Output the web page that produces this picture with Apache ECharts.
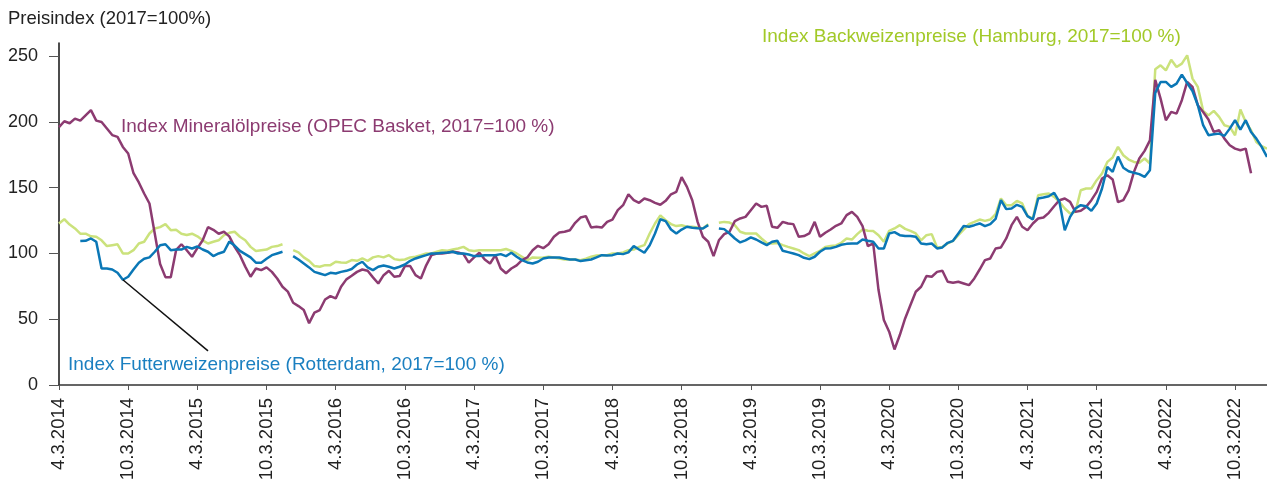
<!DOCTYPE html>
<html>
<head>
<meta charset="utf-8">
<script src="https://cdn.jsdelivr.net/npm/echarts@6/dist/echarts.min.js"></script>
<style>
html,body{margin:0;padding:0;background:#fff;}
#c{width:1267px;height:484px;}
</style>
</head>
<body>
<div id="c"></div>
<script>
// half-year tick labels (one every 13 bi-weekly points)
const tickLabels = ['4.3.2014','10.3.2014','4.3.2015','10.3.2015','4.3.2016','10.3.2016','4.3.2017','10.3.2017','4.3.2018','10.3.2018','4.3.2019','10.3.2019','4.3.2020','10.3.2020','4.3.2021','10.3.2021','4.3.2022','10.3.2022'];
const pointsPerTick = 13;

// Index Mineralölpreise (OPEC Basket, 2017=100 %)
const oil = [196,200.5,199,202.5,201,205,209,201,200,195,
190,188.6,181,176,161,154,145.6,138,115,92,
82,82,102.5,107,102.5,97.5,104,110,120,118,
115,116.5,113,105,98.7,90,82.3,88.6,87.3,89.4,
86,81,74.7,71,62.5,60,57,47,55,57,
65,67.6,65.8,74.7,80.3,83,86,87.8,86.8,81.8,
77.2,83.5,86.8,82.3,82.8,90.4,90.4,83.5,81,91,
98.7,100,100,100.5,101.3,100.8,99.5,93,97,100.5,
95.4,92.4,98.7,88.6,85,88.6,91,95,97,102.5,
105.8,104,107,112.7,116,116.5,117.7,123.3,127.3,128.4,
119.7,120.3,119.7,124,125.8,132.9,136.7,145,140.5,138.5,
141.8,140.5,138.5,137,140,145,146.8,158,150.6,140.5,
124,112.7,108.9,98,110,114.7,116.5,124.6,126.6,127.8,
132.9,138,135.4,136.2,120.3,119.5,124,122.8,122.3,112.7,
113.2,115.2,124,112.7,115.7,118.2,121,122.8,129.1,131.6,
127.8,120.8,105.6,107.6,72.2,49.4,40.5,27,38,50.6,
60.8,70.9,74.7,82.8,82.3,86,86.8,78.5,77.7,78.5,
77.2,75.9,81,87.8,94.9,96.2,103.8,104.6,111.4,121.5,
127.8,120.3,117.7,122.8,126.6,127.3,130.9,135.9,140.5,141.8,
139.2,131.6,132.4,135.4,140.5,146.8,157,159.5,156.2,139,
140.5,148,162,172.2,178,186,232,217.7,201.3,207.6,
206.3,216.5,230.4,226.6,212.7,207.6,201.8,192.4,193.7,187.3,
182.3,179.7,178.5,179.7,161,null,null,null];

// Index Backweizenpreise (Hamburg, 2017=100 %)
const bread = [122.8,126,122,119,115,115,113,112.7,110,105.6,
106.3,107,100,100,102.5,107.6,108.9,115.2,119,120,
122.3,117.7,118,115,114,115,113,110,107.6,108.9,
110,114,115.7,116.5,112.7,110,105,101.8,102.5,103,
105,105.6,107,null,102.5,100.8,97,94.4,90.4,89.9,
91.1,91.1,93.7,93.2,93,95,94.4,96.2,94.4,97,
98,97,98.7,95.7,95,95.4,97,97.5,98.7,100,
100,101.3,102.5,102,103,103.8,105,102.5,101.8,102.5,
102.5,102.5,102.5,102.5,103.4,102,100,97.5,94.9,97,
96.7,97,97.5,97,96.2,95.4,95.4,95.4,94.9,96,
97.5,98.5,98.7,98.7,100,100,100.8,102.5,103,105,
106.3,115.2,122.8,129,125.3,122.3,120.8,121.5,120.3,120.3,
119.7,119,122.3,null,123.3,124,123.5,121.5,116.5,115.2,
115.2,115.2,111.4,108,107.6,108,106.3,105,103.8,102.5,
100,98,100,102,105,105.6,106.1,108.1,111.4,110.6,
114.7,118.2,117.2,117,113.9,108.9,117.2,119,121.5,118.7,
117.2,115.2,110,113.9,114.7,104.6,105,107.6,109.6,113.9,
118.2,122.3,124,125.8,124.8,125.8,129.9,141.8,136.7,136.7,
140,138,128.4,126.6,144.3,145,145.6,143,139.2,134.2,
130.4,131.6,148.1,149.4,149.4,155.7,160.8,169.6,173,181,
174.7,171.4,169.6,168.9,172.2,168.4,240,243,239.2,247.3,
241.8,244.3,250.6,232.9,226.6,208.4,205,208.4,203.8,197.5,
196.2,189.9,209.4,200,193.7,184.8,181.5,179.7];

// Index Futterweizenpreise (Rotterdam, 2017=100 %)
const feed = [null,null,null,null,109.4,109.6,111.4,108.9,88.6,88.6,
87.8,85.3,80,82.3,87.8,93,96,97,101.3,106.3,
107,102.5,103,103,105,103.8,105.3,103,101.3,98,
100,101.3,109,106,102,99.5,97,93,93,96,
98.7,100,101.3,null,98,95.4,92.4,89.4,86,84.8,
83.5,85.3,84.8,86,86.8,88.2,91.6,93.7,89.4,87.3,
89.9,90.9,89.9,88.6,89.9,91.6,94.4,96.2,97.5,98.7,
100,100,100.5,100.8,101.3,100,100,99.2,98,98,
98.7,98.7,98.7,99.5,98,100.5,97.5,94.9,93.2,92.4,
93.7,96.2,97,97,97,96.2,95.4,95.4,94.2,94.9,
95.4,97,98.7,98.5,98.7,100,99.5,100.8,105.6,103,
100.5,106.3,115.2,126,124.6,118.2,115.2,118.2,120.3,119.5,
119.2,119,121.5,null,119,118.5,115.2,111.4,108.4,110,
112.2,110.6,108.4,106.3,108.9,109.6,102,101,100,98.7,
96.7,95.7,97.5,101.3,103.8,104,105,106.6,107.3,107.6,
107.6,110.6,109.6,108.9,103.8,103.8,115.2,116.2,113.9,113.2,
113.2,112.7,107.6,107,107.6,103.8,104.6,108.1,109.6,115.2,
120.8,120.3,121.5,122.8,120.8,122.3,126.3,140.5,133.7,134.2,
137,135.4,128.4,125.8,141.8,142.5,143.5,146.1,139.2,117.7,
127.8,134.2,136.7,135.9,132.4,138,149.4,165.8,162,173.6,
165.2,162.5,161.3,160.3,158.2,163.3,222,230.4,230.4,226.6,
229.1,236,229.6,223.5,212.7,197.5,189.9,190.6,191.1,189.4,
194.9,201.3,194.2,201.3,192.4,187.3,181,173.4];

// leader line of the Futterweizen label: [point index, index value]
const leaderFrom = [12, 80];
const leaderTo = [28, 26];

const yTicks = [0, 50, 100, 150, 200, 250];

const categories = feed.map((_, i) => 'p' + i);

const FONT = '"Liberation Sans", Arial, Helvetica, sans-serif';
const C_OIL = '#8c3b71';
const C_FEED = '#0a77b6';
const C_BREAD = '#cbe27c';
const C_BREAD_TXT = '#a2c928';

const chart = echarts.init(document.getElementById('c'), null, {renderer: 'canvas'});
chart.setOption({
  animation: false,
  backgroundColor: '#fff',
  grid: {left: 59, right: 0, top: 43, bottom: 99, containLabel: false},
  xAxis: {
    type: 'category',
    data: categories,
    boundaryGap: false,
    axisLine: {lineStyle: {color: '#333', width: 1.5}},
    axisTick: {show: true, interval: pointsPerTick - 1, length: 5, lineStyle: {color: '#555', width: 1}},
    axisLabel: {
      interval: pointsPerTick - 1,
      rotate: 90,
      margin: 13,
      fontFamily: FONT,
      fontSize: 18.5,
      color: '#222',
      formatter: (v, idx) => (idx % pointsPerTick === 0 ? tickLabels[idx / pointsPerTick] : '')
    },
    splitLine: {show: false}
  },
  yAxis: {
    type: 'value',
    min: 0,
    max: 260,
    interval: 50,
    axisLine: {show: true, lineStyle: {color: '#111', width: 1.5}},
    axisTick: {show: true, length: 10, customValues: yTicks, lineStyle: {color: '#555', width: 1}},
    axisLabel: {margin: 21, fontFamily: FONT, fontSize: 18, color: '#222', customValues: yTicks},
    splitLine: {show: false}
  },
  series: [
    {
      name: 'Backweizen', type: 'line', data: bread, showSymbol: false, connectNulls: false,
      lineStyle: {color: C_BREAD, width: 2.5}, itemStyle: {color: C_BREAD}, z: 2
    },
    {
      name: 'Mineralöl', type: 'line', data: oil, showSymbol: false, connectNulls: false,
      lineStyle: {color: C_OIL, width: 2.5}, itemStyle: {color: C_OIL}, z: 3
    },
    {
      name: 'Futterweizen', type: 'line', data: feed, showSymbol: false, connectNulls: false,
      lineStyle: {color: C_FEED, width: 2.5}, itemStyle: {color: C_FEED}, z: 4,
      markLine: {
        silent: true, symbol: ['none', 'none'], animation: false,
        lineStyle: {color: '#111', width: 1.5, type: 'solid'},
        label: {show: false},
        data: [[{coord: leaderFrom}, {coord: leaderTo}]]
      }
    }
  ],
  graphic: [
    {type: 'text', x: 8, y: 19, style: {text: 'Preisindex (2017=100%)', font: '18.5px ' + FONT, fill: '#222', verticalAlign: 'middle'}},
    {type: 'text', x: 121, y: 127, style: {text: 'Index Mineralölpreise (OPEC Basket, 2017=100 %)', font: '19px ' + FONT, fill: C_OIL, verticalAlign: 'middle'}},
    {type: 'text', x: 762, y: 37, style: {text: 'Index Backweizenpreise (Hamburg, 2017=100 %)', font: '19px ' + FONT, fill: C_BREAD_TXT, verticalAlign: 'middle'}},
    {type: 'text', x: 68, y: 365, style: {text: 'Index Futterweizenpreise (Rotterdam, 2017=100 %)', font: '19px ' + FONT, fill: '#1a7fc0', verticalAlign: 'middle'}}
  ]
});
</script>
</body>
</html>
